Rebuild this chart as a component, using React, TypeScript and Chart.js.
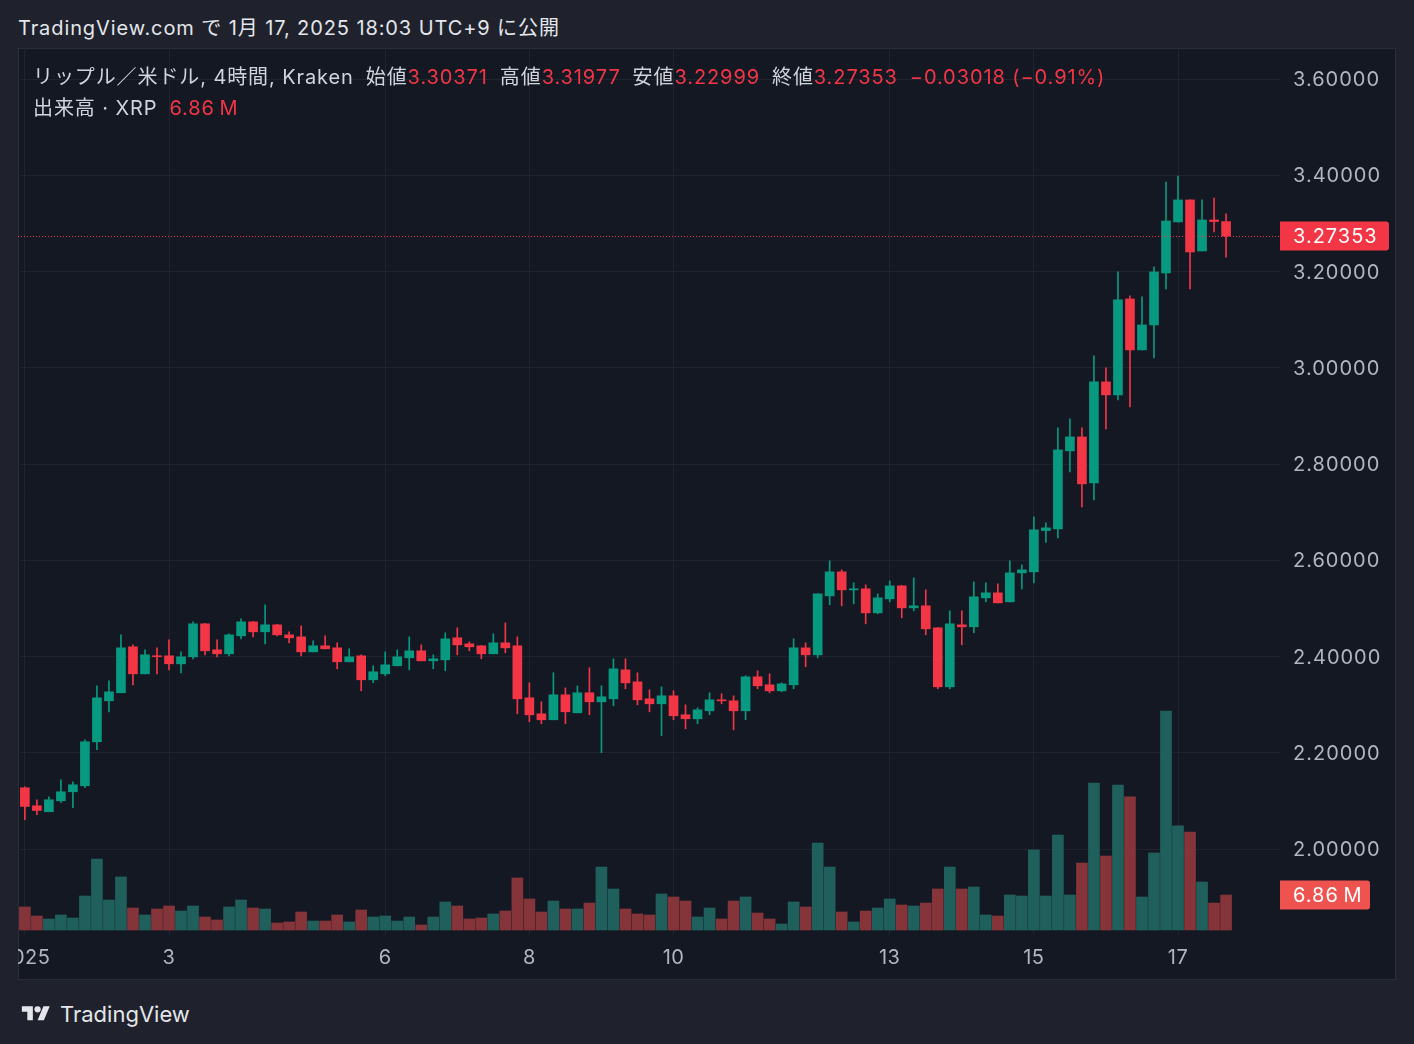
import React, { useEffect, useRef } from "react";
import { Chart, registerables } from "chart.js";
Chart.register(...registerables);

// ---- Data (XRP/USD, 4h candles, Kraken, 1 Jan 2025 00:00 → 17 Jan 2025 16:00 UTC+9) ----
const opens = [
  2.1272, 2.0898, 2.0774, 2.1002, 2.1189, 2.1314, 2.2228, 2.3079, 2.3246, 2.4201,
  2.3640, 2.4010, 2.4014, 2.3848, 2.3993, 2.4679, 2.4139, 2.4056, 2.4430, 2.4720,
  2.4513, 2.4658, 2.4450, 2.4409, 2.4097, 2.4222, 2.4180, 2.3890, 2.4014, 2.3516,
  2.3640, 2.3807, 2.3973, 2.4118, 2.3910, 2.3931, 2.4388, 2.4263, 2.4222, 2.4056,
  2.4284, 2.4222, 2.3142, 2.2809, 2.2685, 2.3204, 2.2830, 2.3246, 2.3059, 2.3121,
  2.3723, 2.3474, 2.3121, 2.3017, 2.3183, 2.2789, 2.2706, 2.2872, 2.3100, 2.3079,
  2.2872, 2.3578, 2.3412, 2.3287, 2.3412, 2.4180, 2.4035, 2.5260, 2.5759, 2.5385,
  2.5406, 2.4907, 2.5198, 2.5468, 2.5011, 2.5053, 2.4596, 2.3370, 2.4658, 2.4617,
  2.5219, 2.5323, 2.5136, 2.5738, 2.5759, 2.6617, 2.6652, 2.8273, 2.8563, 2.7608,
  2.9706, 2.9436, 3.1430, 3.0371, 3.0890, 3.1970, 3.3030, 3.3487, 3.2427, 3.3071,
  3.30371,
];
const highs = [
  2.1290, 2.1023, 2.1085, 2.1438, 2.1397, 2.2269, 2.3391, 2.3495, 2.4450, 2.4242,
  2.4139, 2.4180, 2.4347, 2.4097, 2.4720, 2.4690, 2.4347, 2.4471, 2.4783, 2.4730,
  2.5074, 2.4670, 2.4513, 2.4637, 2.4326, 2.4430, 2.4284, 2.4160, 2.4035, 2.3807,
  2.4097, 2.4139, 2.4409, 2.4242, 2.4035, 2.4492, 2.4596, 2.4305, 2.4230, 2.4471,
  2.4699, 2.4409, 2.3453, 2.3059, 2.3661, 2.3349, 2.3391, 2.3765, 2.3391, 2.3952,
  2.3952, 2.3661, 2.3308, 2.3370, 2.3287, 2.2996, 2.2934, 2.3246, 2.3225, 2.3183,
  2.3599, 2.3703, 2.3640, 2.3453, 2.4367, 2.4284, 2.5302, 2.5988, 2.5801, 2.5531,
  2.5489, 2.5302, 2.5572, 2.5480, 2.5634, 2.5385, 2.4600, 2.4949, 2.4949, 2.5551,
  2.5531, 2.5510, 2.5988, 2.5904, 2.6900, 2.6777, 2.8750, 2.8937, 2.8750, 3.0246,
  2.9997, 3.1991, 3.1492, 3.1472, 3.2095, 3.3860, 3.3985, 3.3490, 3.3487, 3.3528,
  3.31977,
];
const lows = [
  2.0607, 2.0711, 2.0774, 2.0967, 2.0857, 2.1272, 2.2062, 2.2851, 2.3246, 2.3412,
  2.3640, 2.3640, 2.3723, 2.3661, 2.3952, 2.4035, 2.3993, 2.4014, 2.4367, 2.4409,
  2.4264, 2.4430, 2.4284, 2.4014, 2.4097, 2.4160, 2.3744, 2.3890, 2.3287, 2.3453,
  2.3599, 2.3807, 2.3723, 2.3910, 2.3744, 2.3703, 2.4035, 2.4118, 2.3952, 2.4056,
  2.4077, 2.2809, 2.2643, 2.2602, 2.2685, 2.2602, 2.2830, 2.2789, 2.2000, 2.2976,
  2.3329, 2.2996, 2.2851, 2.2353, 2.2685, 2.2498, 2.2602, 2.2789, 2.3017, 2.2477,
  2.2685, 2.3329, 2.3246, 2.3266, 2.3329, 2.3786, 2.3973, 2.5073, 2.5053, 2.5094,
  2.4679, 2.4887, 2.5136, 2.4804, 2.4949, 2.4450, 2.3329, 2.3329, 2.4242, 2.4492,
  2.5136, 2.5115, 2.5136, 2.5406, 2.5531, 2.6368, 2.6465, 2.7836, 2.7109, 2.7255,
  2.8730, 2.9332, 2.9187, 3.0371, 3.0204, 3.1638, 3.3030, 3.1638, 3.2427, 3.2822,
  3.22999,
];
const closes = [
  2.0884, 2.0800, 2.1023, 2.1189, 2.1334, 2.2228, 2.3142, 2.3266, 2.4180, 2.3640,
  2.4035, 2.3995, 2.3848, 2.3993, 2.4679, 2.4118, 2.4056, 2.4450, 2.4720, 2.4513,
  2.4658, 2.4450, 2.4388, 2.4097, 2.4222, 2.4160, 2.3890, 2.3993, 2.3516, 2.3682,
  2.3827, 2.3993, 2.4118, 2.3910, 2.3952, 2.4367, 2.4242, 2.4201, 2.4056, 2.4284,
  2.4180, 2.3121, 2.2789, 2.2685, 2.3204, 2.2851, 2.3246, 2.3059, 2.3163, 2.3744,
  2.3453, 2.3100, 2.3017, 2.3183, 2.2768, 2.2706, 2.2893, 2.3100, 2.3079, 2.2872,
  2.3578, 2.3391, 2.3287, 2.3432, 2.4180, 2.4035, 2.5302, 2.5759, 2.5385, 2.5406,
  2.4907, 2.5219, 2.5468, 2.5011, 2.5053, 2.4575, 2.3370, 2.4679, 2.4617, 2.5240,
  2.5323, 2.5115, 2.5738, 2.5801, 2.6632, 2.6673, 2.8293, 2.8563, 2.7587, 2.9706,
  2.9436, 3.1409, 3.0371, 3.0890, 3.1991, 3.3050, 3.3487, 3.2406, 3.3071, 3.3037,
  3.27353,
];
// volume in millions of XRP
const volumesM = [
  4.51, 2.74, 2.16, 2.94, 2.35, 6.66, 13.9, 5.88, 10.4, 4.31,
  2.94, 4.12, 4.70, 3.72, 4.70, 2.55, 1.96, 4.51, 5.88, 4.31,
  4.12, 1.37, 1.57, 3.53, 1.76, 1.76, 2.94, 1.57, 3.92, 2.55,
  2.74, 1.76, 2.55, 0.98, 2.55, 5.49, 4.70, 2.16, 2.35, 3.14,
  3.72, 10.2, 6.08, 3.53, 5.68, 4.12, 4.12, 5.29, 12.35, 8.04,
  4.12, 3.14, 2.94, 7.06, 6.47, 5.68, 2.55, 4.31, 2.16, 5.68,
  6.47, 3.33, 2.16, 1.18, 5.49, 4.51, 17.05, 12.35, 3.53, 1.57,
  3.72, 4.31, 6.08, 4.90, 4.70, 5.29, 8.04, 12.35, 8.04, 8.43,
  2.94, 2.74, 6.86, 6.66, 15.68, 6.66, 18.62, 6.86, 13.13, 28.8,
  14.5, 28.4, 26.1, 6.47, 15.1, 42.9, 20.4, 19.2, 9.41, 5.29,
  6.86,
];
const dayTickIndex = [0, 12, 30, 42, 54, 72, 84, 96];
const dayTickLabels = ["2025", "3", "6", "8", "10", "13", "15", "17"];
const priceTicks = [2.0, 2.2, 2.4, 2.6, 2.8, 3.0, 3.2, 3.4, 3.6];

const UP = "#089981";
const DOWN = "#f23645";
const VOL_UP = "#1f605d";
const VOL_DOWN = "#85343a";
const GRID = "#20242f";
const AXIS_TEXT = "#b2b5be";
const FONT = "Inter, 'Noto Sans CJK JP', 'Noto Sans', sans-serif";

const PANE = { left: 18, top: 48, width: 1378, height: 932 };

const last = opens.length - 1;
const fmt = (v: number) => v.toFixed(5);

export default function App() {
  const ref = useRef<HTMLCanvasElement | null>(null);

  useEffect(() => {
    if (!ref.current) return;
    const idx = opens.map((_, i) => i);
    const isUp = (i: number) => closes[i] >= opens[i];
    const lastClose = closes[last];
    const lastVol = volumesM[last];

    const overlay = {
      id: "overlay",
      afterDatasetsDraw(chart: any) {
        const { ctx, chartArea, scales } = chart;
        const y = scales.y;
        const x = scales.x;
        const yv = scales.yVol;
        ctx.save();
        // last price dotted line
        const py = Math.round(y.getPixelForValue(lastClose)) + 0.5;
        ctx.strokeStyle = DOWN;
        ctx.lineWidth = 1;
        ctx.setLineDash([1, 2]);
        ctx.beginPath();
        ctx.moveTo(chartArea.left, py);
        ctx.lineTo(chartArea.right, py);
        ctx.stroke();
        ctx.setLineDash([]);
        // price axis labels
        ctx.font = `20px ${FONT}`;
        (ctx as any).letterSpacing = "1px";
        ctx.fillStyle = AXIS_TEXT;
        ctx.textBaseline = "middle";
        ctx.textAlign = "left";
        priceTicks.forEach((v) => {
          ctx.fillText(fmt(v), chartArea.right + 13, y.getPixelForValue(v) + 1);
        });
        // time axis labels
        ctx.textAlign = "center";
        (ctx as any).letterSpacing = "0.5px";
        dayTickIndex.forEach((v, k) => {
          ctx.fillText(dayTickLabels[k], x.getPixelForValue(v), chartArea.bottom + 23);
        });
        (ctx as any).letterSpacing = "1px";
        // last price label box
        const boxY = y.getPixelForValue(lastClose);
        ctx.fillStyle = DOWN;
        ctx.beginPath();
        (ctx as any).roundRect(chartArea.right, boxY - 14.5, 109, 29, [0, 3, 3, 0]);
        ctx.fill();
        ctx.fillStyle = "#ffffff";
        ctx.textAlign = "left";
        ctx.fillText(fmt(lastClose), chartArea.right + 13, boxY + 1);
        // volume label box
        const vy = yv.getPixelForValue(lastVol);
        ctx.fillStyle = "#ef5350";
        ctx.beginPath();
        (ctx as any).roundRect(chartArea.right, vy - 14.5, 90, 29, [0, 3, 3, 0]);
        ctx.fill();
        ctx.fillStyle = "#ffffff";
        ctx.fillText(lastVol.toFixed(2) + "\u2009M", chartArea.right + 13, vy + 1);
        ctx.restore();
      },
    };

    const chart = new Chart(ref.current, {
      type: "bar",
      data: {
        datasets: [
          {
            label: "body",
            data: idx.map((i) => ({ x: i, y: [opens[i], closes[i]] })) as any,
            backgroundColor: idx.map((i) => (isUp(i) ? UP : DOWN)),
            barThickness: 9,
            minBarLength: 1,
            grouped: false,
            yAxisID: "y",
            order: 1,
          } as any,
          {
            label: "wick",
            data: idx.map((i) => ({ x: i, y: [lows[i], highs[i]] })) as any,
            backgroundColor: idx.map((i) => (isUp(i) ? UP : DOWN)),
            barThickness: 1,
            grouped: false,
            yAxisID: "y",
            order: 2,
          } as any,
          {
            label: "volume",
            data: idx.map((i) => ({ x: i, y: volumesM[i] })) as any,
            backgroundColor: idx.map((i) => (isUp(i) ? VOL_UP : VOL_DOWN)),
            barThickness: 11,
            grouped: false,
            yAxisID: "yVol",
            order: 3,
          } as any,
        ],
      },
      options: {
        animation: false,
        responsive: false,
        devicePixelRatio: 1,
        layout: { padding: 0 },
        plugins: { legend: { display: false }, tooltip: { enabled: false } },
        scales: {
          x: {
            type: "linear",
            offset: false,
            min: -0.571,
            max: 104.49,
            grid: { color: GRID, drawTicks: false, offset: false },
            border: { display: false },
            ticks: { display: false },
            afterBuildTicks: (s: any) => {
              s.ticks = dayTickIndex.map((v) => ({ value: v }));
            },
            afterFit: (s: any) => {
              s.height = 45;
            },
          },
          y: {
            type: "linear",
            position: "right",
            min: 1.8213,
            max: 3.66442,
            grid: { color: GRID, drawTicks: false },
            border: { display: false },
            ticks: { display: false },
            afterBuildTicks: (s: any) => {
              s.ticks = priceTicks.map((v) => ({ value: v }));
            },
            afterFit: (s: any) => {
              s.width = 116;
            },
          },
          yVol: {
            type: "linear",
            display: false,
            min: -0.98,
            max: 172.87,
          },
        } as any,
      },
      plugins: [overlay],
    });
    return () => chart.destroy();
  }, []);

  const o = opens[last];
  const h = highs[last];
  const l = lows[last];
  const c = closes[last];
  const chg = c - o;
  const pct = (chg / o) * 100;
  const minus = (v: number) => (v < 0 ? "\u2212" : "+") + Math.abs(v);
  const red = { color: DOWN };
  const lbl = { color: "#d1d4dc" };

  return (
    <div
      style={{
        position: "absolute",
        left: 0,
        top: 0,
        width: 1414,
        height: 1044,
        background: "#1f222c",
        fontFamily: FONT,
        overflow: "hidden",
      }}
    >
      <div
        style={{
          position: "absolute",
          left: 18,
          top: 14,
          fontSize: 20,
          lineHeight: "28px",
          letterSpacing: "0.9px",
          color: "#e4e6eb",
          whiteSpace: "nowrap",
        }}
      >
        TradingView.com で 1月 17, 2025 18:03 UTC+9 に公開
      </div>
      <div
        style={{
          position: "absolute",
          left: PANE.left,
          top: PANE.top,
          width: PANE.width,
          height: PANE.height,
          background: "#141823",
          boxSizing: "border-box",
          border: "1px solid #2a2e39",
        }}
      />
      <canvas
        ref={ref}
        width={PANE.width}
        height={PANE.height}
        style={{ position: "absolute", left: PANE.left, top: PANE.top, width: PANE.width, height: PANE.height }}
      />
      <div
        style={{
          position: "absolute",
          left: 33,
          top: 63,
          fontSize: 20,
          lineHeight: "28px",
          letterSpacing: "0.9px",
          whiteSpace: "nowrap",
          ...lbl,
        }}
      >
        <span>リップル／米ドル, 4時間, Kraken</span>
        <span style={{ marginLeft: 12 }}>始値</span>
        <span style={red}>{fmt(o)}</span>
        <span style={{ marginLeft: 12 }}>高値</span>
        <span style={red}>{fmt(h)}</span>
        <span style={{ marginLeft: 12 }}>安値</span>
        <span style={red}>{fmt(l)}</span>
        <span style={{ marginLeft: 12 }}>終値</span>
        <span style={red}>{fmt(c)}</span>
        <span style={{ ...red, marginLeft: 12 }}>
          {minus(Number(chg.toFixed(5)))} ({minus(Number(pct.toFixed(2)))}%)
        </span>
      </div>
      <div
        style={{
          position: "absolute",
          left: 33,
          top: 94,
          fontSize: 20,
          lineHeight: "28px",
          letterSpacing: "0.9px",
          whiteSpace: "nowrap",
          ...lbl,
        }}
      >
        <span>出来高 · XRP</span>
        <span style={{ ...red, marginLeft: 12 }}>{volumesM[last].toFixed(2)}{"\u2009"}M</span>
      </div>
      <div
        style={{
          position: "absolute",
          left: 18,
          top: 1000,
          display: "flex",
          alignItems: "center",
          gap: 6,
          color: "#e4e6eb",
          fontSize: 22,
          lineHeight: "28px",
        }}
      >
        <svg width="36" height="22" viewBox="0 0 36 28">
          <path d="M14 22H7V11H0V4h14v18z" fill="#e4e6eb" />
          <circle cx="20" cy="8" r="4" fill="#e4e6eb" />
          <path d="M28 22h-8l7.5-18h8L28 22z" fill="#e4e6eb" />
        </svg>
        <span>TradingView</span>
      </div>
    </div>
  );
}
